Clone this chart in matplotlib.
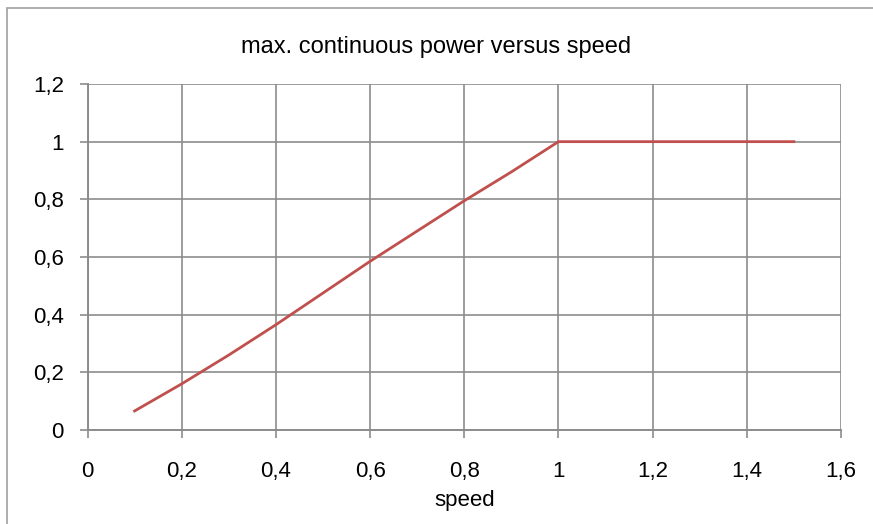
import matplotlib.pyplot as plt
from matplotlib.patches import Rectangle
from matplotlib.ticker import FuncFormatter

# max. continuous power (per unit) vs speed (per unit)
speed = [0.1, 0.2, 0.3, 0.4, 0.5, 0.6, 0.7, 0.8, 0.9, 1.0, 1.1, 1.2, 1.3, 1.4, 1.5]
power = [0.066, 0.16, 0.26, 0.365, 0.475, 0.585, 0.69, 0.795, 0.895, 1.0, 1.0, 1.0, 1.0, 1.0, 1.0]

x_ticks = [0, 0.2, 0.4, 0.6, 0.8, 1.0, 1.2, 1.4, 1.6]
y_ticks = [0, 0.2, 0.4, 0.6, 0.8, 1.0, 1.2]

plt.rcParams['font.family'] = ['Liberation Sans', 'DejaVu Sans']
grid_col = '#8c8c8c'

fig = plt.figure(figsize=(8.73, 5.24), dpi=100)
ax = fig.add_axes([87.5 / 873, 94 / 524, (841 - 87.5) / 873, (430 - 84) / 524])

# outer chart border
fig.patches.append(Rectangle((7 / 873, -0.1), 1.2, 1 - 8 / 524 + 0.1,
                             transform=fig.transFigure, fill=False,
                             edgecolor='#a0a0a0', lw=1.2))

ax.plot(speed, power, color='#c0504d', lw=2)

ax.set_xlim(0, 1.6)
ax.set_ylim(0, 1.2)
ax.set_xticks(x_ticks)
ax.set_yticks(y_ticks)

comma = FuncFormatter(lambda v, p: f"{v:g}".replace('.', ','))
ax.xaxis.set_major_formatter(comma)
ax.yaxis.set_major_formatter(comma)

ax.grid(True, color=grid_col, lw=1.2)
ax.set_axisbelow(True)
for side in ['top', 'right']:
    ax.spines[side].set_visible(False)
for side in ['left', 'bottom']:
    ax.spines[side].set_color(grid_col)
    ax.spines[side].set_linewidth(1.4)

ax.tick_params(axis='both', colors=grid_col, length=6, width=1.2, labelsize=16,
               labelcolor='black')
ax.tick_params(axis='x', pad=16)
ax.tick_params(axis='y', pad=11)

ax.set_xlabel('speed', fontsize=16, labelpad=6)
fig.text(0.5, 1 - 47 / 524, 'max. continuous power versus speed',
         ha='center', va='center', fontsize=17)

fig.savefig('out.png', dpi=100)
